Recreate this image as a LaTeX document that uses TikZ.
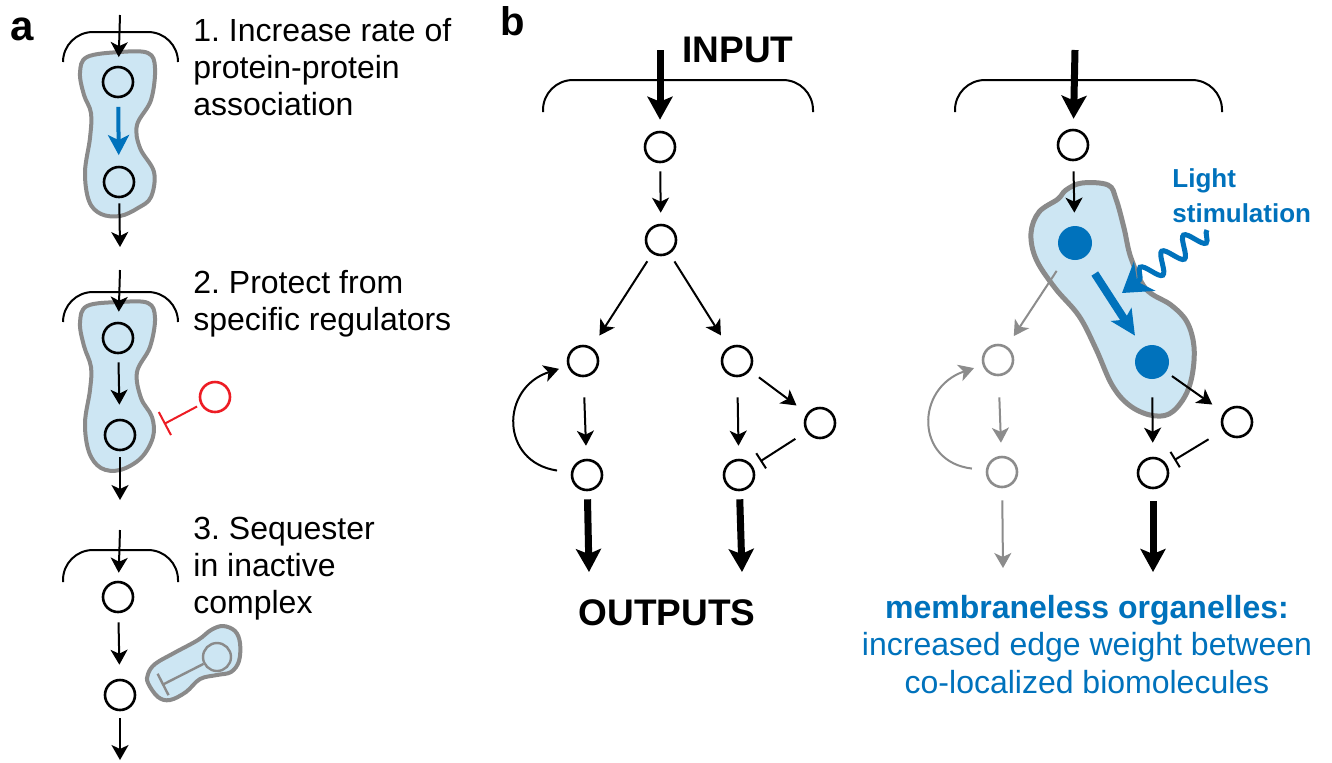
\documentclass[tikz,border=0pt]{standalone}
\usepackage{fontspec}
\setmainfont{Liberation Sans}
\usetikzlibrary{arrows.meta,decorations.pathmorphing}
\frenchspacing

\definecolor{blobfill}{HTML}{CDE6F3}
\definecolor{blobline}{HTML}{8A8A8A}
\definecolor{cblue}{HTML}{0072BC}
\definecolor{cred}{HTML}{ED1C24}
\definecolor{fade}{HTML}{8C8C8C}

\begin{document}
\begin{tikzpicture}[x=0.5pt,y=-0.5pt,
  mol/.style={circle,draw,line width=1.3pt,minimum size=15pt,inner sep=0pt},
  dot/.style={circle,fill=cblue,minimum size=17pt,inner sep=0pt},
  act/.style={line width=1pt,-{Stealth[length=7.5pt,width=8.5pt,inset=2pt]}},
  bigact/.style={line width=3.5pt,-{Stealth[length=11.5pt,width=12.5pt,inset=2.5pt]}},
  inh/.style={line width=1pt,-{Bar[width=9pt]}},
  brace/.style={line width=1pt,rounded corners=15pt},
  blob/.style={draw=blobline,fill=blobfill,line width=2pt},
  lbl/.style={font=\fontsize{16}{18.3}\selectfont,align=left,inner sep=0pt,anchor=base west},
  panel/.style={font=\bfseries\fontsize{21}{24}\selectfont,inner sep=0pt,anchor=base west},
  head/.style={font=\bfseries\fontsize{18.5}{22}\selectfont,inner sep=0pt},
]
\useasboundingbox (0,0) rectangle (1332,762);
\fill[white] (0,0) rectangle (1332,762);

% ---------------- panel a ----------------
\node[panel] (la) at (10,40) {a};

% 1. faster association
\draw[blob] plot[smooth cycle,tension=0.6] coordinates {(120,52) (148,53) (155,68) (151,100) (137,125) (140,148) (154,172) (151,197) (138,208) (120,216) (101,214) (89,201) (85,172) (90,138) (91,113) (84,95) (80,73) (87,57)};
\draw[brace] (63,62) |- (120,32) -| (178,62);
\coordinate (a1in) at (120,15);
\coordinate (a1out) at (120,247);
\node[mol] (a1p) at (118,82) {};
\node[mol] (a1q) at (119,182) {};
\draw[act,shorten >=4.3pt] (a1in) -- (a1p);
\draw[cblue,line width=2pt,-{Stealth[length=10pt,width=10.5pt,inset=2.5pt]},shorten <=4.3pt,shorten >=5.3pt] (a1p) -- (a1q);
\draw[act,shorten <=2.5pt] (a1q) -- (a1out);
\node[lbl] (t1) at (193,115) {1. Increase rate of\\protein-protein\\association};

% 2. shielding from regulators
\draw[blob] plot[smooth cycle,tension=0.6] coordinates {(120,302) (148,303) (155,318) (150,347) (137,372) (141,398) (152,417) (153,437) (141,458) (120,470) (101,468) (89,452) (85,423) (90,390) (91,367) (84,346) (80,323) (87,306)};
\draw[brace] (63,322) |- (120,292) -| (178,322);
\coordinate (a2in) at (120,270);
\coordinate (a2out) at (120,500);
\node[mol] (a2p) at (118,338) {};
\node[mol] (a2q) at (120,435) {};
\draw[act,shorten >=5pt] (a2in) -- (a2p);
\draw[act,shorten <=4pt,shorten >=7pt] (a2p) -- (a2q);
\draw[act,shorten <=3pt] (a2q) -- (a2out);
\node[mol,draw=cred] (reg) at (215,397) {};
\coordinate (regend) at (164,424);
\draw[inh,cred,-{Bar[width=13pt]},shorten <=2pt] (reg) -- (regend);
\node[lbl] (t2) at (193,330) {2. Protect from\\specific regulators};

% 3. sequestration
\draw[brace] (63,582) |- (120,550) -| (178,582);
\coordinate (a3in) at (120,530);
\coordinate (a3out) at (120,760);
\node[mol] (a3p) at (118,597) {};
\node[mol] (a3q) at (120,695) {};
\draw[act,shorten >=4pt] (a3in) -- (a3p);
\draw[act,shorten <=4.5pt,shorten >=7pt] (a3p) -- (a3q);
\draw[act,shorten <=3.5pt] (a3q) -- (a3out);
\draw[blob] plot[smooth cycle,tension=0.6] coordinates {(148,683) (158,697) (170,700) (186,692) (200,679) (217,675) (231,672) (239,661) (240,643) (235,631) (223,626) (211,630) (198,640) (174,653) (155,664) (148,674)};
\node[mol,draw=blobline,line width=1.2pt,minimum size=14pt] (seq) at (217,657) {};
\coordinate (seqend) at (162,685);
\draw[inh,blobline,line width=1.2pt,-{Bar[width=12pt]}] (seq) -- (seqend);
\node[lbl] (t3) at (193,613) {3. Sequester\\in inactive\\complex};

% ---------------- panel b, left ----------------
\node[panel,font=\bfseries\fontsize{20}{24}\selectfont] (lb) at (500,35) {b};
\node[head,anchor=base west] (inp) at (682,62) {INPUT};
\draw[brace] (543,112) |- (678,80) -| (813,112);
\coordinate (Lin) at (660,50);
\node[mol] (L1) at (660,147) {};
\node[mol] (L2) at (661,240) {};
\node[mol] (L3) at (583,361) {};
\node[mol] (R3) at (737,361) {};
\node[mol] (L4) at (587,475) {};
\node[mol] (R4) at (739,475) {};
\node[mol] (R5) at (820,423) {};
\coordinate (Lout) at (589,572);
\coordinate (Rout) at (742,572);
\draw[bigact,shorten >=5.5pt] (Lin) -- (L1);
\draw[act,shorten <=4pt,shorten >=5.5pt] (L1) -- (L2);
\draw[act,shorten <=4.5pt,shorten >=7pt] (L2) -- (L3);
\draw[act,shorten <=4.5pt,shorten >=7pt] (L2) -- (R3);
\draw[act,shorten <=10pt,shorten >=6.5pt] (L3) -- (L4);
\draw[act,shorten <=10pt,shorten >=6.5pt] (R3) -- (R4);
\draw[act,shorten <=7pt,shorten >=4.5pt] (L4) .. controls (500,462) and (500,388) .. (L3);
\draw[act,shorten <=5.5pt,shorten >=6.5pt] (R3) -- (R5);
\draw[inh,shorten <=6.5pt,shorten >=4.5pt] (R5) -- (R4);
\draw[bigact,shorten <=4pt] (L4) -- (Lout);
\draw[bigact,shorten <=4pt] (R4) -- (Rout);
\node[head,anchor=base] (outp) at (667,625) {OUTPUTS};

% ---------------- panel b, right ----------------
\draw[brace] (955,112) |- (1088,80) -| (1222,112);
\coordinate (Sin) at (1075,50);
\node[mol] (S1) at (1073,145) {};
\draw[blob,line width=2.5pt] plot[smooth cycle,tension=0.6] coordinates {(1066,190) (1082,183) (1108,185) (1116,199) (1124,228) (1131,258) (1146,289) (1171,305) (1187,322) (1194,347) (1192,376) (1184,398) (1169,414) (1150,415) (1129,405) (1112,385) (1096,349) (1079,316) (1055,288) (1036,259) (1031,233) (1039,212) (1058,199)};
\node[dot] (S2) at (1075,243) {};
\node[dot] (S3) at (1152,362) {};
\node[mol,draw=fade] (T3) at (998,360) {};
\node[mol,draw=fade] (T4) at (1002,472) {};
\node[mol] (U4) at (1153,473) {};
\node[mol] (U5) at (1237,422) {};
\coordinate (Tout) at (1003,568);
\coordinate (Uout) at (1153,572);
\draw[bigact,shorten >=5pt] (Sin) -- (S1);
\draw[act,shorten <=5pt,shorten >=6.5pt] (S1) -- (S2);
\draw[cblue,line width=4pt,-{Stealth[length=12.5pt,width=12pt,inset=3pt]},shorten <=9.5pt,shorten >=7pt] (S2) -- (S3);
\draw[act,fade,shorten <=8pt,shorten >=6.2pt] (S2) -- (T3);
\draw[act,fade,shorten <=10.5pt,shorten >=6.5pt] (T3) -- (T4);
\draw[act,fade,shorten <=7pt,shorten >=4.5pt] (T4) .. controls (915,462) and (915,388) .. (T3);
\draw[act,fade,shorten <=6pt] (T4) -- (Tout);
\draw[act,shorten <=9pt,shorten >=7pt] (S3) -- (U4);
\draw[act,shorten <=3.5pt,shorten >=7pt] (S3) -- (U5);
\draw[inh,shorten <=8.5pt,shorten >=4.3pt] (U5) -- (U4);
\draw[bigact,shorten <=6pt] (U4) -- (Uout);

% light pulse
\coordinate (wstart) at (1207,230);
\coordinate (wtip) at (1122,293);
\draw[cblue,line width=2.5pt,decorate,
  decoration={snake,amplitude=5pt,segment length=13.5pt,post length=10pt},
  -{Stealth[length=14pt,width=18pt,inset=4.5pt]}] (wstart) -- (wtip);
\node[font=\bfseries\fontsize{13}{17.5}\selectfont,text=cblue,align=left,inner sep=0pt,anchor=base west] (light) at (1172,222) {Light\\stimulation};

\node[font=\fontsize{16}{18.75}\selectfont,text=cblue,align=center,inner sep=0pt,anchor=base] (mo) at (1087,693) {\textbf{membraneless organelles:}\\increased edge weight between\\co-localized biomolecules};
\end{tikzpicture}
\end{document}
